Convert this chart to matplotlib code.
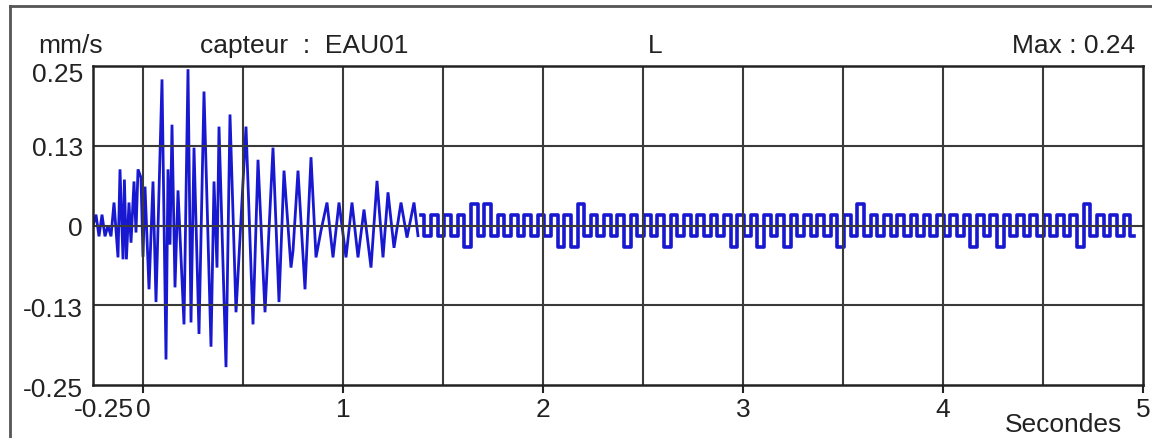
import matplotlib
matplotlib.use('Agg')
import matplotlib.pyplot as plt
import numpy as np
from matplotlib import transforms
from matplotlib.lines import Line2D

plt.rcParams['font.family'] = ['Liberation Sans', 'DejaVu Sans']

# ---- data ----
# strong-motion part: turning points (seconds, mm/s)
event_t = [-0.25, -0.235, -0.22, -0.205, -0.19, -0.175, -0.16, -0.145, -0.125, -0.115,
           -0.10, -0.093, -0.083, -0.07, -0.06, -0.045, -0.035, -0.025, -0.01, 0.0,
           0.01, 0.03, 0.05, 0.065, 0.08, 0.095, 0.115, 0.125, 0.135, 0.145,
           0.16, 0.175, 0.205, 0.225, 0.24, 0.255, 0.28, 0.305, 0.34, 0.355,
           0.37, 0.38, 0.415, 0.435, 0.465, 0.515, 0.55, 0.575, 0.61, 0.65,
           0.68, 0.705, 0.74, 0.75, 0.775, 0.81, 0.84, 0.865, 0.89, 0.92,
           0.95, 0.98, 1.015, 1.045, 1.075, 1.105, 1.14, 1.17, 1.20, 1.225,
           1.255, 1.29, 1.32, 1.355, 1.375]
event_v = [0.0, 0.017, -0.017, 0.017, -0.017, 0.0, -0.017, 0.036, -0.05, 0.088,
           -0.053, 0.072, -0.053, 0.036, -0.027, 0.069, -0.011, 0.088, 0.075, -0.049,
           0.061, -0.10, 0.069, -0.12, 0.053, 0.229, -0.21, 0.088, -0.03, 0.158,
           -0.097, 0.055, -0.155, 0.245, -0.152, 0.122, -0.17, 0.21, -0.19, 0.069,
           -0.066, 0.155, -0.222, 0.174, -0.136, 0.155, -0.155, 0.103, -0.136, 0.122,
           -0.12, 0.086, -0.066, -0.04, 0.086, -0.10, 0.107, -0.05, -0.008, 0.036,
           -0.05, 0.036, -0.05, 0.036, -0.05, 0.025, -0.066, 0.07, -0.05, 0.052,
           -0.035, 0.036, -0.019, 0.036, -0.016]

# background noise after the event: quantized levels (in digitizer steps)
noise_units = [1, -1, 1, -1, 1, -1, 1, -2, 2, -1,
               2, -1, 1, -1, 1, -1, 1, -1, 1, -1,
               1, -2, 1, -2, 2, -1, 1, -1, 1, -1,
               1, -2, 1, -1, 1, -1, 1, -2, 1, -1,
               1, -1, 1, -1, 1, -1, 1, -2, 1, -1,
               1, -2, 1, -1, 1, -2, 1, -1, 1, -1,
               1, -1, 1, -2, 1, -1, 2, -1, 1, -1,
               1, -1, 1, -1, 1, -1, 1, -1, 1, -1,
               1, -1, 1, -2, 1, -1, 1, -2, 1, -1,
               1, -1, 1, -1, 1, -1, 1, -1, 1, -2,
               2, -1, 1, -1, 1, -1, 1, -1]
quantum = 0.0165          # mm/s per step
noise_t0 = 1.39           # s
noise_dt = 0.0333         # s per half cycle

x_grid = [0, 0.5, 1, 1.5, 2, 2.5, 3, 3.5, 4, 4.5]
y_grid = [-0.125, 0, 0.125]
x_ticks = [0, 1, 2, 3, 4, 5]
x_labels = ['0', '1', '2', '3', '4', '5']
y_ticks = [0.25, 0.125, 0, -0.125, -0.25]
y_labels = ['0.25', '0.13', '0', '-0.13', '-0.25']

# ---- figure ----
W, H, DPI = 1152, 439, 100
fig = plt.figure(figsize=(W / DPI, H / DPI), dpi=DPI)
ax = fig.add_axes([93 / W, 1 - 386 / H, 1050 / W, 319 / H])
ax.set_xlim(-0.25, 5)
ax.set_ylim(-0.25, 0.25)

line_col = '#1818d0'
ax.plot(event_t, event_v, color=line_col, lw=2.0, zorder=2, solid_joinstyle='miter')
noise_t = noise_t0 + noise_dt * np.arange(len(noise_units))
ax.plot(noise_t, np.array(noise_units) * quantum, color=line_col, lw=2.6,
        drawstyle='steps-mid', zorder=2)

grid_col = '#3a3a3a'
for xv in x_grid:
    ax.axvline(xv, color=grid_col, lw=1.5, zorder=3)
for yv in y_grid:
    ax.axhline(yv, color=grid_col, lw=1.5, zorder=3)

for s in ax.spines.values():
    s.set_linewidth(1.8)
    s.set_color('#222222')
    s.set_zorder(4)

ax.set_xticks(x_ticks)
ax.tick_params(axis='x', length=5.8, width=1.5, color='#222222', direction='out',
               labelbottom=False)
ax.set_yticks([])

fs = 19
tcol = '#222222'

# x labels
trans_x = transforms.blended_transform_factory(ax.transData, ax.transAxes)
off_x = transforms.ScaledTranslation(0, -31 / DPI, fig.dpi_scale_trans)
for t, lab in zip(x_ticks, x_labels):
    ax.text(t, 0, lab, transform=trans_x + off_x, ha='center', va='baseline',
            fontsize=fs, color=tcol, clip_on=False)
ax.text(-0.046, 0, '-0.25', transform=trans_x + off_x, ha='right', va='baseline',
        fontsize=fs, color=tcol, clip_on=False)

# y labels
trans_y = transforms.blended_transform_factory(ax.transAxes, ax.transData)
y_off_px = [15, 9, 10, 11, 11]
for yv, lab, dpx in zip(y_ticks, y_labels, y_off_px):
    off = transforms.ScaledTranslation(-10 / DPI, -dpx / DPI, fig.dpi_scale_trans)
    ax.text(0, yv, lab, transform=trans_y + off, ha='right', va='baseline',
            fontsize=fs, color=tcol, clip_on=False)

# header texts
yb = 1 - 53 / H
fig.text(38 / W, yb, 'mm/s', ha='left', va='baseline', fontsize=fs, color=tcol)
fig.text(200 / W, yb, 'capteur  :  EAU01', ha='left', va='baseline', fontsize=fs, color=tcol)
fig.text(655 / W, yb, 'L', ha='center', va='baseline', fontsize=fs, color=tcol)
fig.text(1135 / W, yb, 'Max : 0.24', ha='right', va='baseline', fontsize=fs, color=tcol)
fig.text(1063 / W, 1 - 432 / H, 'Secondes', ha='center', va='baseline', fontsize=fs, color=tcol)

# outer frame (cut by the image edges)
fig.add_artist(Line2D([10 / W, 10 / W], [0, 1 - 7 / H], transform=fig.transFigure,
                      color='#555555', lw=2))
fig.add_artist(Line2D([10 / W, 1], [1 - 7 / H, 1 - 7 / H], transform=fig.transFigure,
                      color='#555555', lw=2))

fig.savefig('out.png', dpi=DPI)
